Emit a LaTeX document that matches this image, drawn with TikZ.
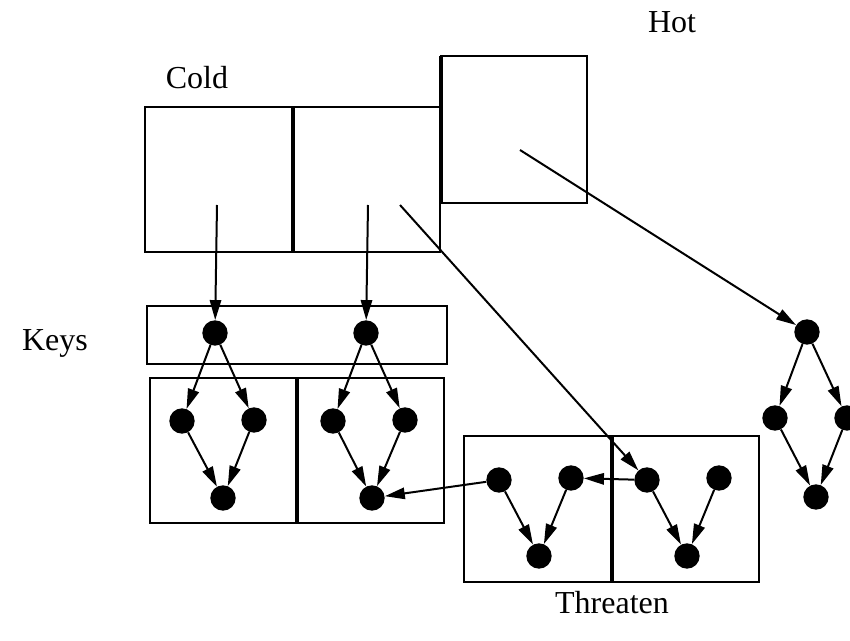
\documentclass[tikz,border=0pt]{standalone}
\usepackage{fontspec}
\setmainfont{Liberation Serif}
\usetikzlibrary{arrows.meta}
\begin{document}
\begin{tikzpicture}[
    x=0.75pt,y=-0.75pt,
    font=\fontsize{24}{28}\selectfont,
    dot/.style={circle,fill=black,inner sep=0pt,minimum size=19pt},
    box/.style={draw=black,line width=1.6pt},
    wall/.style={draw=black,line width=3pt},
    arr/.style={draw=black,line width=1.5pt,-{Triangle[length=15pt,width=8.5pt]}}
]
    \useasboundingbox (0,0) rectangle (850,641);

    \draw[box] (145,107) rectangle (440,252);
    \draw[wall] (293,107) -- (293,252);
    \draw[box] (441,56) rectangle (587,203);
    \draw[wall] (441,56) -- (441,203);
    \draw[box] (147,306) rectangle (447,364);
    \draw[box] (150,378) rectangle (444,523);
    \draw[wall] (297,378) -- (297,523);
    \draw[box] (464,436) rectangle (759,582);
    \draw[wall] (612,436) -- (612,582);

    \node (cold) at (197,78) {Cold};
    \node (hot) at (672,22) {Hot};
    \node (keys) at (55,343) {Keys};
    \node (threaten) at (612,603) {Threaten};

    \node[dot] (k1) at (215,333) {};
    \node[dot] (k2) at (366,333) {};
    \node[dot] (l1) at (182,421) {};
    \node[dot] (l2) at (254,420) {};
    \node[dot] (l3) at (223,498) {};
    \node[dot] (m1) at (333,421) {};
    \node[dot] (m2) at (405,420) {};
    \node[dot] (m3) at (372,498) {};
    \node[dot] (t1) at (499,480) {};
    \node[dot] (t2) at (571,478) {};
    \node[dot] (t3) at (539,556) {};
    \node[dot] (u1) at (647,480) {};
    \node[dot] (u2) at (719,478) {};
    \node[dot] (u3) at (687,556) {};
    \node[dot] (h1) at (807,332) {};
    \node[dot] (h2) at (775,418) {};
    \node[dot] (h3) at (847,418) {};
    \node[dot] (h4) at (816,497) {};

    \coordinate (c1) at (217,205);
    \coordinate (c2) at (368,205);
    \coordinate (c3) at (400,205);
    \coordinate (c4) at (520,150);

    \draw[arr] (c1) -- (k1);
    \draw[arr] (c2) -- (k2);
    \draw[arr] (c3) -- (u1);
    \draw[arr] (c4) -- (h1);
    \draw[arr] (k1) -- (l1);
    \draw[arr] (k1) -- (l2);
    \draw[arr] (l1) -- (l3);
    \draw[arr] (l2) -- (l3);
    \draw[arr] (k2) -- (m1);
    \draw[arr] (k2) -- (m2);
    \draw[arr] (m1) -- (m3);
    \draw[arr] (m2) -- (m3);
    \draw[arr] (t1) -- (t3);
    \draw[arr] (t2) -- (t3);
    \draw[arr] (u1) -- (u3);
    \draw[arr] (u2) -- (u3);
    \draw[arr] (u1) -- (t2);
    \draw[arr] (t1) -- (m3);
    \draw[arr] (h1) -- (h2);
    \draw[arr] (h1) -- (h3);
    \draw[arr] (h2) -- (h4);
    \draw[arr] (h3) -- (h4);
\end{tikzpicture}
\end{document}
